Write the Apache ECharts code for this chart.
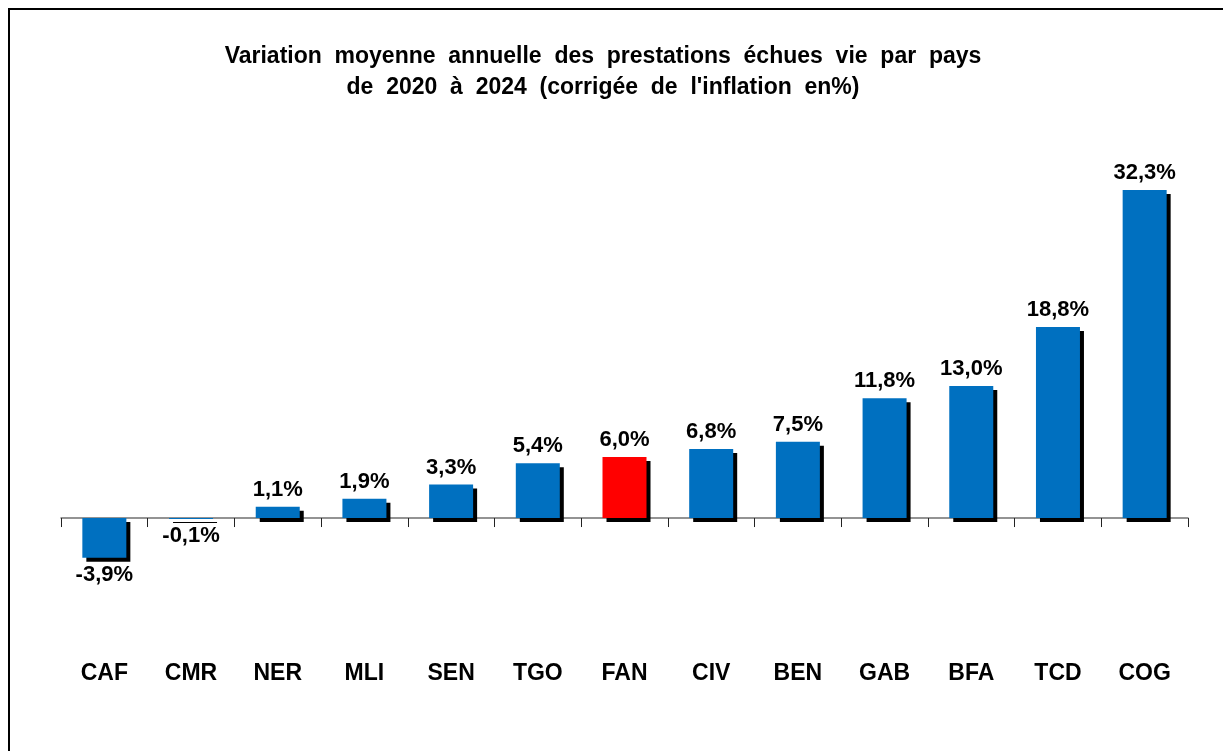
<!DOCTYPE html>
<html>
<head>
<meta charset="utf-8">
<script src="https://cdn.jsdelivr.net/npm/echarts@6/dist/echarts.min.js"></script>
<style>
  html, body { margin: 0; padding: 0; background: #fff; }
  #chart { width: 1223px; height: 751px; }
</style>
</head>
<body>
<div id="chart"></div>
<script>
// pays et variation moyenne annuelle (%)
const countries = ['CAF', 'CMR', 'NER', 'MLI', 'SEN', 'TGO', 'FAN', 'CIV', 'BEN', 'GAB', 'BFA', 'TCD', 'COG']
const values = [-3.9, -0.1, 1.1, 1.9, 3.3, 5.4, 6.0, 6.8, 7.5, 11.8, 13.0, 18.8, 32.3]
const highlight = 'FAN'

const chart = echarts.init(document.getElementById('chart'))

const seriesData = values.map((v, i) => ({
  value: v,
  itemStyle: { color: countries[i] === highlight ? '#ff0000' : '#0070c0' },
  label: { position: v < 0 ? 'bottom' : 'top' }
}))

const option = {
  animation: false,
  title: {
    text: 'Variation  moyenne  annuelle  des  prestations  échues  vie  par  pays\nde  2020  à  2024  (corrigée  de  l\'inflation  en%)',
    left: 598, // centre du titre vers x = 603
    textAlign: 'center',
    top: 36,
    textStyle: {
      fontFamily: 'Liberation Sans',
      fontWeight: 'bold',
      fontSize: 23,
      lineHeight: 31,
      color: '#000'
    }
  },
  graphic: [
    {
      type: 'rect',
      shape: { x: 9, y: 9, width: 1400, height: 900 },
      style: { fill: 'none', stroke: '#000', lineWidth: 2 },
      silent: true
    }
  ],
  grid: { left: 61, right: 35, top: 162.6, bottom: 111.1 },
  xAxis: [
    {
      type: 'category',
      data: countries,
      axisLine: { onZero: true, lineStyle: { color: '#707070', width: 1.5 } },
      axisTick: { show: true, length: 9, lineStyle: { color: '#222' } },
      axisLabel: { show: false }
    },
    {
      type: 'category',
      data: countries,
      position: 'bottom',
      axisLine: { show: false, onZero: false },
      axisTick: { show: false },
      axisLabel: {
        margin: 22,
        fontFamily: 'Liberation Sans',
        fontWeight: 'bold',
        fontSize: 23,
        color: '#000'
      }
    }
  ],
  yAxis: {
    type: 'value',
    min: -12,
    max: 35,
    show: false,
    splitLine: { show: false }
  },
  series: [
    {
      type: 'bar',
      xAxisIndex: 0,
      data: seriesData,
      barWidth: 44,
      itemStyle: {
        shadowColor: '#000',
        shadowOffsetX: 4,
        shadowOffsetY: 4,
        shadowBlur: 0
      },
      label: {
        show: true,
        distance: 6,
        fontFamily: 'Liberation Sans',
        fontWeight: 'bold',
        fontSize: 22,
        color: '#000',
        formatter: p => p.value.toFixed(1).replace('.', ',') + '%'
      }
    }
  ]
}

chart.setOption(option)
</script>
</body>
</html>
